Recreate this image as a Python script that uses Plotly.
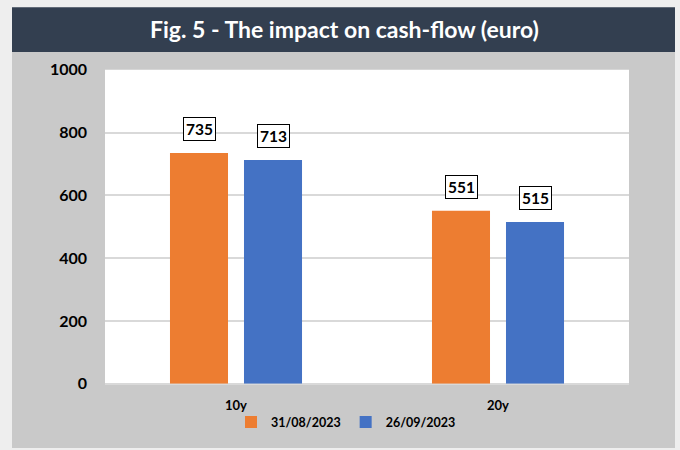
import plotly.graph_objects as go

categories = ["10y", "20y"]
series_names = ["31/08/2023", "26/09/2023"]
values_aug = [735, 551]
values_sep = [713, 515]
tick_vals = [0, 200, 400, 600, 800, 1000]
title_text = "Fig. 5 - The impact on cash-flow (euro)"

colors = ["#ED7D31", "#4472C4"]
FONT = "Lato"

# layout geometry (reference pixel positions mapped to figure fractions)
W, H = 680, 466
S = 450 / 466


def px(x):
    return x / W


def py(y):
    return 1 - ((y + 0.3) / S) / H


fig = go.Figure()
for name, vals, c in zip(series_names, [values_aug, values_sep], colors):
    fig.add_trace(go.Bar(x=categories, y=vals, name=name, marker=dict(color=c, line=dict(width=0))))

# data labels
for vals, shift in zip([values_aug, values_sep], [-37, 37]):
    for cat, v in zip(categories, vals):
        fig.add_annotation(x=cat, y=v, xref="x", yref="y", text=f"<b>{v}</b>",
                           showarrow=False, xshift=shift, yshift=12, yanchor="bottom",
                           font=dict(family=FONT, size=15.5, color="black", weight="bold"),
                           bgcolor="white", bordercolor="black", borderwidth=1, borderpad=2)

# background shapes
fig.add_shape(type="rect", xref="paper", yref="paper", x0=px(12), x1=px(675), y0=0, y1=py(51),
              fillcolor="#C9C9C9", line=dict(width=0), layer="below")
fig.add_shape(type="rect", xref="paper", yref="paper", x0=px(105), x1=px(629), y0=py(385), y1=py(69),
              fillcolor="white", line=dict(width=0), layer="below")
fig.add_shape(type="rect", xref="paper", yref="paper", x0=px(12), x1=px(675), y0=py(51), y1=py(6),
              fillcolor="#333F50", line=dict(width=0), layer="below")
fig.add_annotation(x=px(344), y=py(28), xref="paper", yref="paper", text=f"<b>{title_text}</b>",
                   showarrow=False, xanchor="center", yanchor="middle",
                   font=dict(family=FONT, size=23, color="white", weight="bold"))

fig.update_layout(
    width=W, height=H,
    margin=dict(l=0, r=0, t=0, b=0),
    paper_bgcolor="#EEEEEE",
    plot_bgcolor="white",
    barmode="group",
    bargap=0.435,
    bargroupgap=0.216,
    showlegend=True,
    legend=dict(orientation="h", x=px(346), xanchor="center", y=py(424), yanchor="middle",
                font=dict(family=FONT, size=12.5, color="black", weight="bold"),
                bgcolor="rgba(0,0,0,0)", itemwidth=30, traceorder="normal"),
    xaxis=dict(domain=[px(105), px(629)], showgrid=False, showline=False, ticks="",
               tickfont=dict(family=FONT, size=13, color="black", weight="bold"),
               ticklabelstandoff=12),
    yaxis=dict(domain=[py(385), py(69)], range=[0, 1000], tickvals=tick_vals,
               showgrid=True, gridcolor="#D9D9D9", gridwidth=2, zeroline=True,
               zerolinecolor="#D9D9D9", zerolinewidth=2, showline=False,
               tickfont=dict(family=FONT, size=16, color="black", weight="bold"),
               ticklabelstandoff=17),
)

fig.write_html("out.html", config={"displayModeBar": False},
               post_script="document.body.style.margin='0';document.body.style.marginTop='-9px';"
                           "document.body.style.background='#EEEEEE';document.body.style.overflow='hidden';")
